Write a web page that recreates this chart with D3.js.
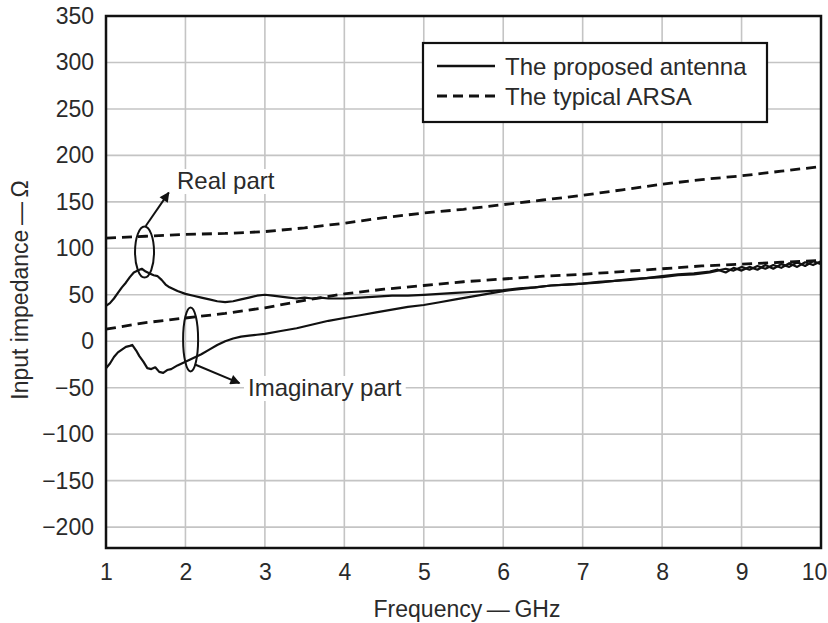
<!DOCTYPE html>
<html>
<head>
<meta charset="utf-8">
<script src="https://cdn.jsdelivr.net/npm/d3@7"></script>
<style>
  html, body { margin: 0; padding: 0; background: #fff; }
  svg { display: block; font-family: "Liberation Sans", Arial, Helvetica, sans-serif; }
</style>
</head>
<body>
<svg id="chart" width="828" height="623"></svg>
<script>
// Frequency ticks (GHz) and impedance ticks (ohm)
const xTicks = [1, 2, 3, 4, 5, 6, 7, 8, 9, 10];
const yTicks = [-200, -150, -100, -50, 0, 50, 100, 150, 200, 250, 300, 350];

// Proposed antenna: real part
const propRealF = [1.00,1.05,1.10,1.15,1.20,1.25,1.30,1.35,1.40,1.45,1.50,1.55,1.60,1.65,1.70,1.75,1.80,1.90,2.00,2.10,2.20,2.30,2.40,2.50,2.60,2.70,2.80,2.90,3.00,3.10,3.20,3.30,3.40,3.50,3.60,3.70,3.80,3.90,4.00,4.20,4.40,4.60,4.80,5.00,5.20,5.40,5.60,5.80,6.00,6.20,6.40,6.60,6.80,7.00,7.20,7.40,7.60,7.80,8.00,8.20,8.40,8.60,8.70,8.80,8.90,9.00,9.10,9.20,9.30,9.40,9.50,9.60,9.70,9.80,9.90,10.00];
const propReal  = [38,41,46,52,58,63,69,74,76,78,75,73,71,70,66,61,58,54,51,49,47,45,43,42,43,45,47,49,50,49,48,47,46,47,46,47,46,46,46,47,48,49,49,50,51,52,53,54,55,57,58,60,61,62,64,65,67,68,70,72,73,75,77,74,79,76,80,77,82,78,83,80,85,81,86,83];

// Proposed antenna: imaginary part
const propImagF = [1.00,1.05,1.10,1.15,1.20,1.25,1.30,1.33,1.38,1.42,1.47,1.52,1.57,1.62,1.67,1.72,1.77,1.82,1.90,2.00,2.10,2.20,2.30,2.40,2.50,2.60,2.70,2.80,2.90,3.00,3.20,3.40,3.60,3.80,4.00,4.20,4.40,4.60,4.80,5.00,5.20,5.40,5.60,5.80,6.00,6.20,6.40,6.60,6.80,7.00,7.20,7.40,7.60,7.80,8.00,8.20,8.40,8.60,8.70,8.80,8.90,9.00,9.10,9.20,9.30,9.40,9.50,9.60,9.70,9.80,9.90,10.00];
const propImag  = [-29,-24,-17,-12,-9,-6,-5,-4,-10,-16,-22,-29,-30,-28,-33,-34,-31,-30,-26,-22,-18,-14,-9,-4,0,3,5,6,7,8,11,14,18,22,25,28,31,34,37,39,42,45,48,51,54,56,58,60,61,62,63,65,66,68,69,71,72,74,76,78,76,80,77,81,78,82,79,84,80,85,82,86];

// Typical ARSA: real and imaginary parts
const arsaF    = [1.0,1.5,2.0,2.5,3.0,3.5,4.0,4.5,5.0,5.5,6.0,6.5,7.0,7.5,8.0,8.5,9.0,9.5,10.0];
const arsaReal = [111,113,115,116,118,122,127,133,138,142,147,152,157,163,169,174,178,183,188];
const arsaImag = [13,20,25,30,36,44,51,56,60,64,67,70,72,75,78,81,83,85,87];

const legendLabels = ["The proposed antenna", "The typical ARSA"];

const svg = d3.select("#chart");
const x = d3.scaleLinear().domain([1, 10]).range([106, 821]);
const y = d3.scaleLinear().domain([-222.5, 350]).range([548, 16]);
const textColor = "#2a2a2a";

// grid
const grid = svg.append("g");
grid.selectAll("line.v").data(xTicks.slice(1, -1)).join("line")
  .attr("x1", d => x(d)).attr("x2", d => x(d))
  .attr("y1", y.range()[1]).attr("y2", y.range()[0])
  .attr("stroke", "#c4c4c4").attr("stroke-width", 1.6);
grid.selectAll("line.h").data(yTicks.slice(0, -1)).join("line")
  .attr("x1", x.range()[0]).attr("x2", x.range()[1])
  .attr("y1", d => y(d)).attr("y2", d => y(d))
  .attr("stroke", "#c4c4c4").attr("stroke-width", 1.6);

// axes (labels only)
const xAxis = svg.append("g").attr("transform", `translate(0,${y.range()[0]})`)
  .call(d3.axisBottom(x).tickValues(xTicks).tickSize(0).tickPadding(16).tickFormat(d3.format("d")));
const yAxis = svg.append("g").attr("transform", `translate(${x.range()[0]},0)`)
  .call(d3.axisLeft(y).tickValues(yTicks).tickSize(0).tickPadding(12)
    .tickFormat(d => d < 0 ? "\u2212" + Math.abs(d) : d));
[xAxis, yAxis].forEach(a => {
  a.select(".domain").remove();
  a.selectAll("text").attr("font-size", 23).attr("fill", textColor)
    .attr("font-family", "'Liberation Sans', Arial, sans-serif");
});
// keep the last frequency label inside the page
xAxis.selectAll(".tick text").filter(d => d === 10).attr("dx", -7);

// series
const line = d3.line().x(d => x(d[0])).y(d => y(d[1]));
const zip = (a, b) => a.map((v, i) => [v, b[i]]);
const lines = svg.append("g").attr("fill", "none").attr("stroke", "#111");
lines.append("path").attr("d", line(zip(arsaF, arsaReal)))
  .attr("stroke-width", 2.8).attr("stroke-dasharray", "10,6");
lines.append("path").attr("d", line(zip(arsaF, arsaImag)))
  .attr("stroke-width", 2.8).attr("stroke-dasharray", "10,6");
lines.append("path").attr("d", line(zip(propRealF, propReal)))
  .attr("stroke-width", 2.2).attr("stroke-linejoin", "round");
lines.append("path").attr("d", line(zip(propImagF, propImag)))
  .attr("stroke-width", 2.2).attr("stroke-linejoin", "round");

// plot frame
svg.append("rect")
  .attr("x", x.range()[0]).attr("y", y.range()[1])
  .attr("width", x.range()[1] - x.range()[0]).attr("height", y.range()[0] - y.range()[1])
  .attr("fill", "none").attr("stroke", "#111").attr("stroke-width", 2.5);

// arrow marker
svg.append("defs").append("marker")
  .attr("id", "arrow").attr("viewBox", "0 0 10 10").attr("refX", 9).attr("refY", 5)
  .attr("markerWidth", 6).attr("markerHeight", 5).attr("orient", "auto")
  .attr("markerUnits", "strokeWidth")
  .append("path").attr("d", "M0,0L10,5L0,10Z").attr("fill", "#111");

// annotations: ellipses grouping the curve pairs, with arrows to their labels
const ann = svg.append("g").attr("fill", "none").attr("stroke", "#111").attr("stroke-width", 2);
ann.append("ellipse").attr("cx", x(1.485)).attr("cy", y(96)).attr("rx", 9.5).attr("ry", 25.5);
ann.append("line").attr("x1", x(1.5)).attr("y1", y(124))
  .attr("x2", x(1.79)).attr("y2", y(160)).attr("marker-end", "url(#arrow)");
ann.append("ellipse").attr("cx", x(2.065)).attr("cy", y(2)).attr("rx", 7.5).attr("ry", 32);
ann.append("line").attr("x1", x(2.12)).attr("y1", y(-25))
  .attr("x2", x(2.68)).attr("y2", y(-45)).attr("marker-end", "url(#arrow)");

function label(tx, ty, str) {
  const g = svg.append("g");
  const bg = g.append("rect").attr("fill", "#fff");
  const t = g.append("text").attr("x", tx).attr("y", ty).text(str)
    .attr("font-size", 24).attr("fill", textColor);
  const b = t.node().getBBox();
  bg.attr("x", b.x - 4).attr("y", b.y + 2).attr("width", b.width + 8).attr("height", b.height - 2);
}
label(177, 189, "Real part");
label(248, 396, "Imaginary part");

// legend
const lg = svg.append("g");
lg.append("rect").attr("x", 423).attr("y", 43).attr("width", 344).attr("height", 79)
  .attr("fill", "#fff").attr("stroke", "#111").attr("stroke-width", 2.2);
const rows = [{dash: null, w: 2.4}, {dash: "10,6", w: 2.8}];
legendLabels.forEach((name, i) => {
  const cy = 66 + i * 30;
  lg.append("line").attr("x1", 437).attr("x2", 495).attr("y1", cy).attr("y2", cy)
    .attr("stroke", "#111").attr("stroke-width", rows[i].w)
    .attr("stroke-dasharray", rows[i].dash);
  lg.append("text").attr("x", 505).attr("y", cy + 8.5).text(name)
    .attr("font-size", 24).attr("fill", textColor);
});

// axis titles
svg.append("text").attr("x", 467).attr("y", 617).attr("text-anchor", "middle")
  .attr("font-size", 23).attr("fill", textColor).text("Frequency\u2009\u2014\u2009GHz");
svg.append("text").attr("transform", "translate(28,290) rotate(-90)")
  .attr("text-anchor", "middle").attr("font-size", 23).attr("fill", textColor)
  .text("Input impedance\u2009\u2014\u2009\u03A9");
</script>
</body>
</html>
